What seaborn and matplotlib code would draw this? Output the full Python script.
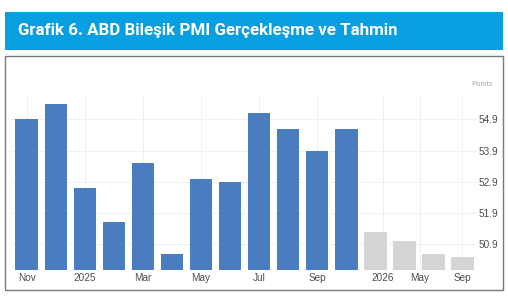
import matplotlib
matplotlib.use("Agg")
import matplotlib.pyplot as plt
from matplotlib.patches import Rectangle
import seaborn as sns
import pandas as pd

# --- data ---
periods = ["Nov 2024", "Dec 2024", "Jan 2025", "Feb 2025", "Mar 2025", "Apr 2025",
           "May 2025", "Jun 2025", "Jul 2025", "Aug 2025", "Sep 2025", "Oct 2025",
           "Q4 2025", "Q1 2026", "Q2 2026", "Q3 2026"]
values = [54.9, 55.4, 52.7, 51.6, 53.5, 50.6, 53.0, 52.9, 55.1, 54.6, 53.9, 54.6,
          51.3, 51.0, 50.6, 50.5]
kind = ["Gerçekleşme"] * 12 + ["Tahmin"] * 4
xtick_pos = [0, 2, 4, 6, 8, 10, 12.28, 13.55, 15]
xtick_labels = ["Nov", "2025", "Mar", "May", "Jul", "Sep", "2026", "May", "Sep"]
yticks = [50.9, 51.9, 52.9, 53.9, 54.9]

df = pd.DataFrame({"period": periods, "value": values, "kind": kind})

sns.set_theme(style="white")
plt.rcParams["font.family"] = ["Liberation Sans", "DejaVu Sans"]

W, H = 508, 297
fig = plt.figure(figsize=(W / 100, H / 100), dpi=100)

# title banner
fig.patches.append(Rectangle((5 / W, 1 - 49.5 / H), 498 / W, 37.5 / H,
                             transform=fig.transFigure, facecolor="#079fe0",
                             edgecolor="none", zorder=0))
fig.text(18 / W, 1 - 31 / H, "Grafik 6. ABD Bileşik PMI Gerçekleşme ve Tahmin",
         color="white", fontsize=12.2, fontweight="bold", va="center", ha="left",
         family=["Roboto", "DejaVu Sans"])
# chart frame
fig.patches.append(Rectangle((5 / W, 1 - 290 / H), 498 / W, 234 / H,
                             transform=fig.transFigure, facecolor="white",
                             edgecolor="#7a7a7a", linewidth=1.0, zorder=0))

ax = fig.add_axes([11 / W, 1 - 270 / H, 465 / W, 175 / H])
ax.set_zorder(5)
ax.set_facecolor("none")
sns.barplot(data=df, x="period", y="value", hue="kind", order=periods,
            palette={"Gerçekleşme": "#4a7dbf", "Tahmin": "#d4d4d4"},
            saturation=1, dodge=False, width=0.79, legend=False, ax=ax,
            zorder=3, edgecolor="none")

ax.set_ylim(50.08, 55.68)
ax.set_xlim(-0.55, 15.48)
ax.yaxis.tick_right()
ax.set_yticks(yticks)
ax.set_yticklabels([f"{v:.1f}" for v in yticks])
ax.set_xticks(xtick_pos)
ax.set_xticklabels(xtick_labels)
ax.tick_params(axis="both", length=0, labelsize=7.2, colors="#4d4d4d")
ax.tick_params(axis="x", pad=2)
ax.tick_params(axis="y", pad=2)
ax.set_xlabel("")
ax.set_ylabel("")
for s in ax.spines.values():
    s.set_visible(False)
ax.grid(True, color="#f0f0f0", linewidth=0.7, zorder=0)
ax.set_axisbelow(True)

fig.text(493 / W, 1 - 84 / H, "Points", fontsize=5.6, color="#a8a8a8",
         ha="right", va="center", zorder=6)

fig.savefig("out.png", dpi=100)
